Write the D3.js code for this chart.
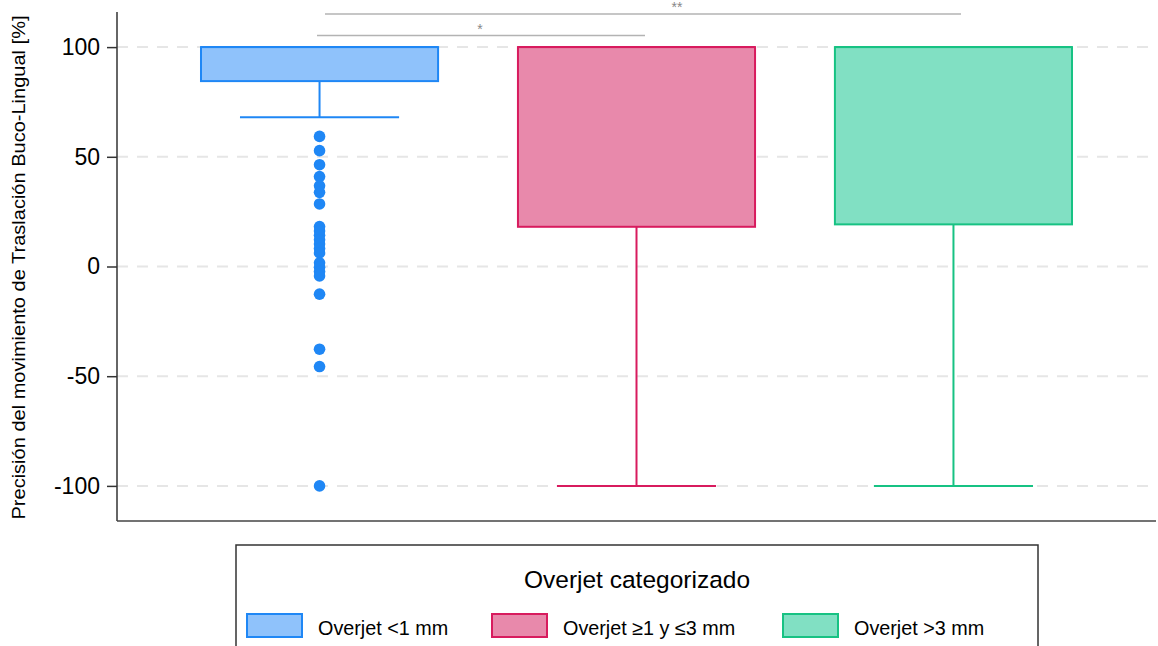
<!DOCTYPE html>
<html>
<head>
<meta charset="utf-8">
<script src="https://cdn.jsdelivr.net/npm/d3@7"></script>
<style>
  html, body { margin: 0; padding: 0; background: #fff; }
  svg { display: block; font-family: "Liberation Sans", Arial, Helvetica, sans-serif; }
</style>
</head>
<body>
<svg id="chart" width="1158" height="646"></svg>
<script>
// Overjet groups and their box-plot summaries
const categories = ["Overjet <1 mm", "Overjet ≥1 y ≤3 mm", "Overjet >3 mm"];
const q1 = [84.5, 18.1, 19.2];
const median = [100, 100, 100];
const q3 = [100, 100, 100];
const whiskerLow = [68, -100, -100];
const whiskerHigh = [100, 100, 100];
// Outlying observations of the first group
const outliers0 = [59.3, 52.8, 46.4, 41.0, 36.8, 33.8, 28.5,
  18.2, 16.2, 14.2, 12.2, 10.2, 8.2, 6.2,
  1.7, -0.3, -2.3, -4.3, -12.6, -37.7, -45.6, -100];
const yTicks = [-100, -50, 0, 50, 100];
// Significance brackets between groups
const brackets = [
  { from: 0, to: 1, label: "*" },
  { from: 0, to: 2, label: "**" }
];

const strokeColors = ["#1f87f5", "#d81b5e", "#17c283"];
const fillColors = ["#8fc2fb", "#e889ab", "#81e0c3"];

const svg = d3.select("#chart");
const plotLeft = 117, plotRight = 1156, plotTop = 12, plotBottom = 521;

const x = d3.scalePoint().domain(categories).range([plotLeft, plotRight]).padding(0.639);
const step = x.step();
const y = d3.scaleLinear().domain([-116, 116]).range([plotBottom, plotTop]);

// dashed horizontal grid
svg.append("g").selectAll("line").data(yTicks).join("line")
  .attr("x1", plotLeft).attr("x2", plotRight)
  .attr("y1", d => y(d)).attr("y2", d => y(d))
  .attr("stroke", "#e6e6e6").attr("stroke-width", 2)
  .attr("stroke-dasharray", "11,9");

// y axis
const yAxis = d3.axisLeft(y).tickValues(yTicks).tickSize(10).tickPadding(7).tickFormat(d => String(d));
const gy = svg.append("g").attr("transform", `translate(${plotLeft},0)`).call(yAxis);
gy.select(".domain").attr("d", `M0,${plotTop}V${plotBottom}`).attr("stroke", "#333").attr("stroke-width", 1.5);
gy.selectAll(".tick line").attr("stroke", "#333").attr("stroke-width", 1.5);
gy.selectAll(".tick text").attr("fill", "#000").style("font-size", "23px")
  .style("font-family", "'Liberation Sans', Arial, sans-serif");

// bottom frame line
svg.append("line").attr("x1", plotLeft).attr("x2", plotRight).attr("y1", plotBottom).attr("y2", plotBottom)
  .attr("stroke", "#444").attr("stroke-width", 1.5);

// y axis title
svg.append("text")
  .attr("transform", `translate(25,${(plotTop + plotBottom) / 2 + 1}) rotate(-90)`)
  .attr("text-anchor", "middle")
  .attr("textLength", 504).attr("lengthAdjust", "spacingAndGlyphs")
  .style("font-size", "18px")
  .text("Precisión del movimiento de Traslación Buco-Lingual [%]");

// boxes
const boxW = step * 0.748, capW = step * 0.502;
const groups = svg.append("g").selectAll("g").data(categories).join("g");
groups.each(function (c, i) {
  const g = d3.select(this);
  const cx = x(c);
  // lower whisker
  g.append("line").attr("x1", cx).attr("x2", cx).attr("y1", y(q1[i])).attr("y2", y(whiskerLow[i]))
    .attr("stroke", strokeColors[i]).attr("stroke-width", 2);
  g.append("line").attr("x1", cx - capW / 2).attr("x2", cx + capW / 2)
    .attr("y1", y(whiskerLow[i])).attr("y2", y(whiskerLow[i]))
    .attr("stroke", strokeColors[i]).attr("stroke-width", 2);
  // upper whisker
  g.append("line").attr("x1", cx).attr("x2", cx).attr("y1", y(q3[i])).attr("y2", y(whiskerHigh[i]))
    .attr("stroke", strokeColors[i]).attr("stroke-width", 2);
  // box
  g.append("rect").attr("x", cx - boxW / 2).attr("width", boxW)
    .attr("y", y(q3[i])).attr("height", y(q1[i]) - y(q3[i]))
    .attr("fill", fillColors[i]).attr("stroke", strokeColors[i]).attr("stroke-width", 2);
  // median
  g.append("line").attr("x1", cx - boxW / 2).attr("x2", cx + boxW / 2)
    .attr("y1", y(median[i])).attr("y2", y(median[i]))
    .attr("stroke", strokeColors[i]).attr("stroke-width", 2);
});

// outliers
svg.append("g").selectAll("circle").data(outliers0).join("circle")
  .attr("cx", x(categories[0])).attr("cy", d => y(d)).attr("r", 5.8)
  .attr("fill", strokeColors[0]);

// significance brackets
const bracketY = [35.5, 14];
const bracketX = [[317, 645], [325, 961]];
const labelX = [480, 677];
const labelY = [34, 12];
brackets.forEach((b, k) => {
  svg.append("line").attr("x1", bracketX[k][0]).attr("x2", bracketX[k][1])
    .attr("y1", bracketY[k]).attr("y2", bracketY[k])
    .attr("stroke", "#b3b3b3").attr("stroke-width", 1.4);
  svg.append("text").attr("x", labelX[k]).attr("y", labelY[k])
    .attr("text-anchor", "middle").attr("fill", "#888").style("font-size", "14px")
    .text(b.label);
});

// legend
const legend = svg.append("g");
legend.append("rect").attr("x", 236).attr("y", 545).attr("width", 802).attr("height", 130)
  .attr("fill", "none").attr("stroke", "#333").attr("stroke-width", 1.5);
legend.append("text").attr("x", 637).attr("y", 588).attr("text-anchor", "middle")
  .style("font-size", "24.5px").text("Overjet categorizado");
const swatchX = [247, 492, 783];
categories.forEach((c, i) => {
  legend.append("rect").attr("x", swatchX[i]).attr("y", 614).attr("width", 55).attr("height", 23)
    .attr("fill", fillColors[i]).attr("stroke", strokeColors[i]).attr("stroke-width", 2);
  legend.append("text").attr("x", swatchX[i] + 71).attr("y", 635)
    .style("font-size", "19.8px").text(c);
});
</script>
</body>
</html>
